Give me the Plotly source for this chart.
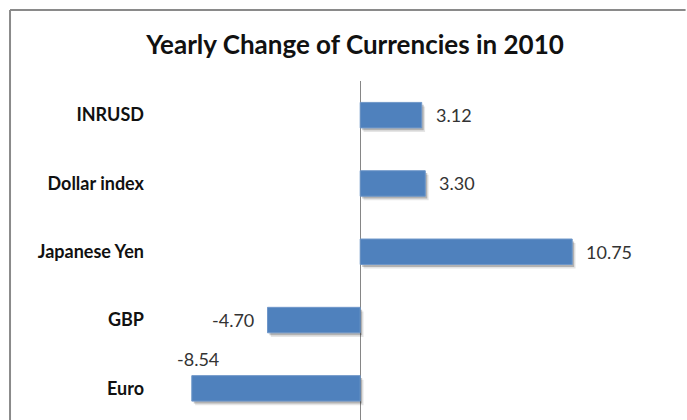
import plotly.graph_objects as go

# Yearly percentage change of each currency in 2010
categories = ["INRUSD", "Dollar index", "Japanese Yen", "GBP", "Euro"]
changes = [3.12, 3.30, 10.75, -4.70, -8.54]
labels_above = ["Euro"]

BAR_BLUE = "#4F81BD"
FONT = "Lato"
BAR_W = 0.373

fig = go.Figure()

# soft drop shadow under each bar (two faint layers)
for dx, dy, alpha in [(0.17, 0.06, 0.10), (0.10, 0.035, 0.22)]:
    fig.add_trace(go.Bar(
        y=categories,
        x=[abs(v) for v in changes],
        base=[min(v, 0) + dx for v in changes],
        orientation="h",
        width=BAR_W,
        offset=-BAR_W / 2 - dy,
        marker=dict(color=f"rgba(0,0,0,{alpha})", line=dict(width=0)),
        hoverinfo="skip",
        showlegend=False,
    ))

fig.add_trace(go.Bar(
    y=categories,
    x=changes,
    orientation="h",
    width=BAR_W,
    offset=-BAR_W / 2,
    marker=dict(color=BAR_BLUE, line=dict(color="#6f97c9", width=1)),
    showlegend=False,
))

# value labels next to the bars
for cat, v in zip(categories, changes):
    txt = f"{v:.2f}"
    if cat in labels_above:
        fig.add_annotation(x=v, y=cat, text=txt, showarrow=False,
                           xanchor="center", yanchor="middle",
                           xshift=6, yshift=29)
    elif v >= 0:
        fig.add_annotation(x=v, y=cat, text=txt, showarrow=False,
                           xanchor="left", yanchor="middle", xshift=12)
    else:
        fig.add_annotation(x=v, y=cat, text=txt, showarrow=False,
                           xanchor="right", yanchor="middle", xshift=-12)

# chart frame: only its top and left edges fall inside the figure
frame = dict(color="#8a8a8a", width=2)
fig.add_shape(type="line", xref="paper", yref="paper",
              x0=-0.3103, y0=1.2094, x1=1.06, y1=1.2094, line=frame, layer="below")
fig.add_shape(type="line", xref="paper", yref="paper",
              x0=-0.3103, y0=0, x1=-0.3103, y1=1.2094, line=frame, layer="below")

fig.update_layout(
    width=687, height=420,
    margin=dict(l=163, r=31, t=81, b=0),
    paper_bgcolor="white", plot_bgcolor="white",
    barmode="overlay",
    font=dict(family=FONT, size=18, color="#333333"),
    title=dict(text="Yearly Change of Currencies in 2010",
               x=355 / 687, xanchor="center", xref="container",
               y=1 - 45 / 420, yanchor="middle", yref="container",
               font=dict(family=FONT, size=26, color="#111111", weight="bold")),
    xaxis=dict(range=[-10, 15], showgrid=False, showticklabels=False,
               zeroline=True, zerolinecolor="#868686", zerolinewidth=1,
               showline=False, ticks=""),
    yaxis=dict(categoryorder="array", categoryarray=categories[::-1],
               range=[-0.463, 4.5], showgrid=False, zeroline=False,
               showline=False, ticks="", ticklabelstandoff=18,
               tickfont=dict(family=FONT, size=18, color="#111111", weight="bold")),
)

fig.write_html("out.html", config={"displayModeBar": False})
